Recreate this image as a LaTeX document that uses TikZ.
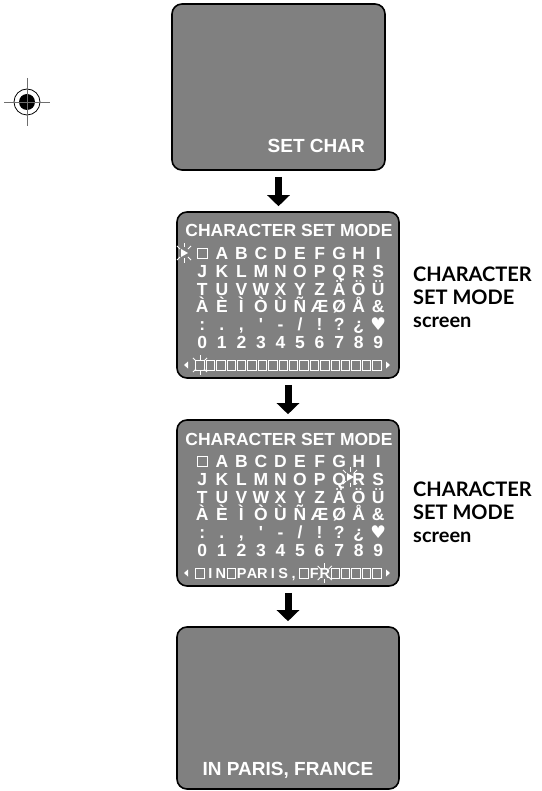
\documentclass[tikz,border=0pt]{standalone}
\usepackage{fontspec}
\usepackage{tikz}
\usetikzlibrary{arrows.meta,positioning}
\newfontfamily\scrfont{Liberation Sans}
\newfontfamily\lblfont{Lato}
\newfontfamily\symfont{DejaVu Sans}
\definecolor{ScreenGray}{HTML}{808080}
\definecolor{MarkGray}{HTML}{6E6E6E}
\tikzset{
  % Screen box
  SCR/.style={rectangle,rounded corners=10pt,draw=black,line width=1.6pt,
              fill=ScreenGray,minimum width=222pt,minimum height=166pt,inner sep=0pt},
  % Screen text
  ST/.style={text=white,inner sep=0pt,font=\scrfont\bfseries\fontsize{17.5}{17.5}\selectfont},
  BIG/.style={ST,font=\scrfont\bfseries\fontsize{19}{19}\selectfont},
  BAR/.style={ST,font=\scrfont\bfseries\fontsize{14.5}{14.5}\selectfont},
  % Arrow
  arr/.style={-{Triangle[length=11pt,width=22pt]},line width=7pt,shorten <=6pt,shorten >=5pt},
  % Side label
  LB/.style={align=left,anchor=west,inner sep=0pt,font=\lblfont\bfseries\fontsize{20}{23}\selectfont},
  % Cells and blink marks
  sq/.style={draw=white,line width=0.8pt},
  spark/.style={white,line width=0.8pt}
}
\newcommand\sparkle[1]{\foreach \a in {45,90,135,225,270,315}{\draw[spark] (#1) ++(\a:5.5) -- ++(\a:4.5);}}
\newcommand\pointer[1]{\fill[white] (#1) ++(-3,-4) -- ++(7,4) -- ++(-7,4) -- cycle;}
\begin{document}
\begin{tikzpicture}[x=1pt,y=-1pt]
  \useasboundingbox (0,0) rectangle (541,791);
  % registration mark
  \coordinate (reg) at (27,102);
  \fill (reg) circle (8);
  \draw[line width=0.8pt] (reg) circle (13);
  \draw[MarkGray,line width=0.9pt] (reg) ++(-23,0) -- ++(46,0) (reg) ++(0,-24) -- ++(0,48);

  % screens
  \node[SCR,minimum width=213pt]      (setc)  at (278.5,87) {};
  \node[BIG,anchor=base east]         (setlbl) at (365,153) {SET CHAR};
  \node[SCR]                          (modem) at (288,295) {};
  \node[SCR]                          (moden) at (288,503) {};
  \node[SCR,minimum height=162pt]     (paris) at (288,708) {};
  \node[BIG,anchor=base]              (parislbl) at (288,775) {IN PARIS, FRANCE};

  \draw[arr](setc.south) -- (setc.south |- modem.north);
  \draw[arr](modem.south) -- (moden.north);
  \draw[arr](moden.south) -- (paris.north);

  % character table (same on both mode screens)
  \foreach \s/\dy in {m/0,n/208}{
    \begin{scope}[shift={(0,\dy)}]
      \node[ST,anchor=base] (\s-title) at (289,237) {CHARACTER SET MODE};
      \draw[sq] (197.5,248.5) rectangle (207.5,258.5);
      \foreach \ch [count=\k] in {A,B,C,D,E,F,G,H,I}
        \node[ST,anchor=base] (\s-r1-\k) at ({202.3+19.55*\k},259.5) {\ch};
      \foreach \ch [count=\k from 0] in {J,K,L,M,N,O,P,Q,R,S}
        \node[ST,anchor=base] (\s-r2-\k) at ({202.3+19.55*\k},277.3) {\ch};
      \foreach \ch [count=\k from 0] in {T,U,V,W,X,Y,Z,Ä,Ö,Ü}
        \node[ST,anchor=base] (\s-r3-\k) at ({202.3+19.55*\k},295.1) {\ch};
      \foreach \ch [count=\k from 0] in {À,È,Ì,Ò,Ù,Ñ,Æ,Ø,Å,\&}
        \node[ST,anchor=base] (\s-r4-\k) at ({202.3+19.55*\k},312.9) {\ch};
      \foreach \ch [count=\k from 0] in {:,.,{,},\textquotesingle,-,/,!,?,¿,{\symfont ♥}}
        \node[ST,anchor=base] (\s-r5-\k) at ({202.3+19.55*\k},330.7) {\ch};
      \foreach \ch [count=\k from 0] in {0,1,2,3,4,5,6,7,8,9}
        \node[ST,anchor=base] (\s-r6-\k) at ({202.3+19.55*\k},348.5) {\ch};
      % bar ends
      \fill[white] (188,361.5) -- (184,365) -- (188,368.5) -- cycle;
      \fill[white] (386,361.5) -- (390,365) -- (386,368.5) -- cycle;
    \end{scope}
  }

  % input bar, first screen
  \foreach \i in {0,...,17}
    \draw[sq] ({195.75+10.4*\i},360) rectangle ++(8.5,10);
  \pointer{184,253}
  \sparkle{184,253}
  \sparkle{200,365}

  % input bar, second screen
  \foreach \i in {0,3,10,13,14,15,16,17}
    \draw[sq] ({195.75+10.4*\i},568) rectangle ++(8.5,10);
  \foreach \i/\ch in {1/I,2/N,4/P,5/A,6/R,7/I,8/S,9/{,},11/F,12/R}
    \node[BAR,anchor=base] (n-b\i) at ({200+10.4*\i},578) {\ch};
  \pointer{350,477}
  \sparkle{350,477}
  \sparkle{324.8,573}

  % side labels
  \node[LB] (mlbl) at (413,297) {CHARACTER\\SET MODE\\screen};
  \node[LB] (nlbl) at (413,512) {CHARACTER\\SET MODE\\screen};
\end{tikzpicture}
\end{document}
